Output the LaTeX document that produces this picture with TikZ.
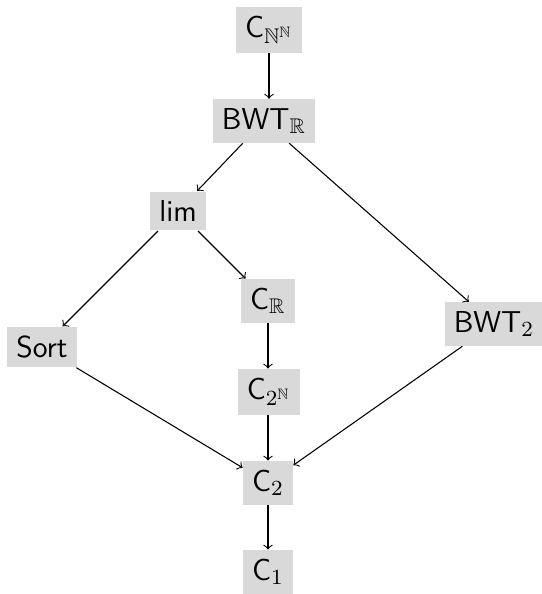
\documentclass[tikz,border=0pt]{standalone}
\usepackage{amssymb}
\begin{document}
\begin{tikzpicture}[x=0.3704pt,y=-0.3704pt,
  box/.style={fill=gray!30,font=\fontsize{11.2}{13.5}\selectfont\sffamily},
  arr/.style={->}]
\useasboundingbox (0,0) rectangle (542,594);
\node[box] (cnn) at (269,30) {C$_{\mathbb{N}^{\mathbb{N}}}$};
\node[box] (bwtr) at (264,121) {BWT$_{\mathbb{R}}$};
\node[box] (lim) at (178,211) {lim};
\node[box] (cr) at (268,301) {C$_{\mathbb{R}}$};
\node[box] (sort) at (42,347) {Sort};
\node[box] (bwt2) at (494,324) {BWT$_2$};
\node[box] (c2n) at (269,392) {C$_{2^{\mathbb{N}}}$};
\node[box] (c2) at (268,483) {C$_2$};
\node[box] (c1) at (268,572) {C$_1$};
\draw[arr] (cnn) -- (cnn |- bwtr.north);
\draw[arr] (bwtr) -- (lim);
\draw[arr] (bwtr) -- (bwt2);
\draw[arr] (lim) -- (sort);
\draw[arr] (lim) -- (cr);
\draw[arr] (cr) -- (cr |- c2n.north);
\draw[arr] (c2n.south -| c2) -- (c2);
\draw[arr] (sort) -- (c2);
\draw[arr] (bwt2) -- (c2);
\draw[arr] (c2) -- (c1);
\end{tikzpicture}
\end{document}
